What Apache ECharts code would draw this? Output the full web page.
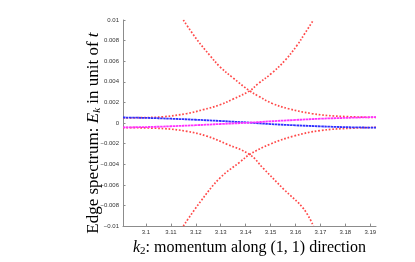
<!DOCTYPE html>
<html>
<head>
<meta charset="utf-8">
<script src="https://cdn.jsdelivr.net/npm/echarts@6/dist/echarts.min.js"></script>
<style>html,body{margin:0;padding:0;background:#fff}#c{width:415px;height:262px}</style>
</head>
<body>
<div id="c"></div>
<script>
// ---- data ----
const xTicks = [3.1, 3.11, 3.12, 3.13, 3.14, 3.15, 3.16, 3.17, 3.18, 3.19];
const xMin = 3.0908, xMax = 3.1923;
const yMin = -0.01, yMax = 0.01, yStep = 0.002;

const redUpperFalling = [[3.1150,0.0100],[3.1204,0.00812],[3.1257,0.00655],[3.1297,0.00546],[3.1350,0.00437],[3.1416,0.00312],[3.1451,0.00262],[3.1505,0.00192],[3.1572,0.00139],[3.1666,0.00092],[3.1759,0.00068],[3.1923,0.00054]];
const redUpperRising  = [[3.0908,0.00050],[3.0976,0.00052],[3.1070,0.00061],[3.1164,0.00092],[3.1230,0.00130],[3.1297,0.00177],[3.1350,0.00233],[3.1416,0.00312],[3.1451,0.00383],[3.1505,0.00484],[3.1558,0.00608],[3.1605,0.00750],[3.1639,0.00875],[3.1672,0.0100]];
const redLowerFalling = [[3.0908,-0.00044],[3.1070,-0.00054],[3.1164,-0.00080],[3.1244,-0.00127],[3.1325,-0.00205],[3.1416,-0.00305],[3.1471,-0.00440],[3.1553,-0.00643],[3.1632,-0.00830],[3.1672,-0.0100]];
const redLowerRising  = [[3.1150,-0.0100],[3.1217,-0.00768],[3.1297,-0.00533],[3.1378,-0.00377],[3.1416,-0.00305],[3.1498,-0.00205],[3.1592,-0.00127],[3.1699,-0.00073],[3.1833,-0.00049],[3.1923,-0.00042]];
const blueBand = [[3.0908,0.00054],[3.100,0.00050],[3.110,0.00042],[3.120,0.00032],[3.130,0.00020],[3.1416,0.00004],[3.150,-0.00010],[3.160,-0.00022],[3.170,-0.00032],[3.180,-0.00040],[3.1923,-0.00045]];
const pinkBand = [[3.0908,-0.00042],[3.100,-0.00039],[3.110,-0.00031],[3.120,-0.00021],[3.130,-0.00009],[3.1416,0.00004],[3.150,0.00017],[3.160,0.00030],[3.170,0.00042],[3.180,0.00050],[3.1923,0.00058]];

const chart = echarts.init(document.getElementById('c'), null, {renderer: 'canvas'});
const serif = 'Liberation Serif';
function dotted(data, color, width, dash) {
  return {
    type: 'line', data: data, smooth: 0.4, symbol: 'none', clip: true,
    lineStyle: {color: color, width: width, type: dash}
  };
}
chart.setOption({
  animation: false,
  backgroundColor: '#fff',
  grid: {left: 123, right: 39, top: 20, bottom: 29},
  xAxis: {
    type: 'value', min: xMin, max: xMax,
    name: '{i|k}{s|2}: momentum along (1, 1) direction',
    nameLocation: 'middle', nameGap: 7,
    nameTextStyle: {
      fontFamily: serif, fontSize: 16, color: '#000',
      rich: {i: {fontFamily: serif, fontStyle: 'italic', fontSize: 16}, s: {fontFamily: serif, fontSize: 11, padding: [7,0,0,0]}}
    },
    axisLine: {show: true, onZero: false, lineStyle: {color: '#8c8c8c', width: 1}},
    axisTick: {show: true, inside: true, length: 2.5, customValues: xTicks, lineStyle: {color: '#8c8c8c'}},
    axisLabel: {customValues: xTicks, fontSize: 6, color: '#333', fontFamily: 'Liberation Sans', margin: 3,
      formatter: v => String(Math.round(v * 100) / 100)},
    splitLine: {show: false}
  },
  yAxis: {
    type: 'value', min: yMin, max: yMax, interval: yStep,
    name: 'Edge spectrum: {i|E}{s|k} in unit of {i|t}',
    nameLocation: 'middle', nameGap: 20, nameRotate: 90, nameMoveOverlap: false,
    nameTextStyle: {
      fontFamily: serif, fontSize: 17, color: '#000', padding: [0, 20, 0, 0],
      rich: {i: {fontFamily: serif, fontStyle: 'italic', fontSize: 17}, s: {fontFamily: serif, fontStyle: 'italic', fontSize: 11, padding: [7,0,0,0]}}
    },
    axisLine: {show: true, onZero: false, lineStyle: {color: '#8c8c8c', width: 1}},
    axisTick: {show: true, inside: true, length: 2.5, lineStyle: {color: '#8c8c8c'}},
    axisLabel: {fontSize: 6, color: '#333', fontFamily: 'Liberation Sans', margin: 4,
      formatter: v => { const r = Math.round(v * 1000) / 1000; return r === 0 ? '0' : String(r).replace('-', '\u2212'); }},
    splitLine: {show: false}
  },
  series: [
    dotted(redUpperFalling, '#ff4a4a', 1.7, [1.7, 1.8]),
    dotted(redUpperRising, '#ff4a4a', 1.7, [1.7, 1.8]),
    dotted(redLowerFalling, '#ff4a4a', 1.7, [1.7, 1.8]),
    dotted(redLowerRising, '#ff4a4a', 1.7, [1.7, 1.8]),
    dotted(blueBand, '#3030ff', 1.8, [2.5, 0.6]),
    dotted(pinkBand, '#ff30ff', 1.8, [2.5, 0.6])
  ]
});
</script>
</body>
</html>
